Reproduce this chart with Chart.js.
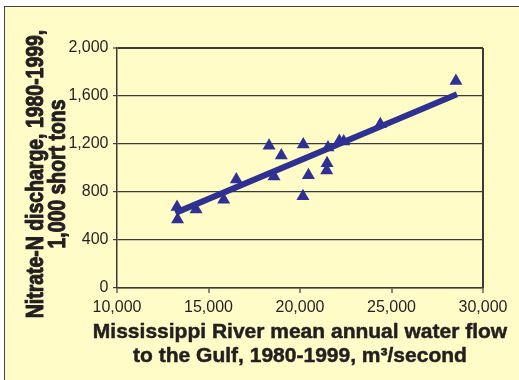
<!DOCTYPE html>
<html>
<head>
<meta charset="utf-8">
<script src="https://cdn.jsdelivr.net/npm/chart.js@4/dist/chart.umd.min.js"></script>
<style>
  html, body { margin: 0; padding: 0; background: #ffffff; width: 519px; height: 380px; overflow: hidden; }
  #frame { position: absolute; left: 4px; top: 6px; width: 530px; height: 390px; background: #FFFCC8;
           border-left: 1.5px solid #444; border-top: 1.5px solid #444; }
  #wrap { position: absolute; left: 0; top: 0; width: 519px; height: 380px; }
</style>
</head>
<body>
<div id="frame"></div>
<div id="wrap"><canvas id="c" width="519" height="380"></canvas></div>
<script>
// Mississippi River mean annual water flow (m3/s)
const flow = [13280, 13310, 14320, 15830, 16520, 18310, 18980, 18580, 20180, 20160,
              20460, 21480, 21460, 21530, 22150, 22390, 24390, 28520];
// Nitrate-N discharge (1,000 short tons)
const nitrate = [675, 570, 655, 735, 905, 1185, 1105, 930, 1195, 765,
                 940, 1040, 980, 1170, 1225, 1220, 1365, 1725];
// Fitted trend line end points
const trendX = [13190, 28580];
const trendY = [626, 1614];

const xTitle = ['Mississippi River mean annual water flow', 'to the Gulf, 1980-1999, m\u00B3/second'];
const yTitle = ['Nitrate-N discharge, 1980-1999,', '1,000 short tons'];

const navy = '#2E3192';
const ink = '#231F20';
const gridInk = '#3a3a3a';
const sans = "'Liberation Sans', Arial, sans-serif";

const points = flow.map((x, i) => ({ x: x, y: nitrate[i] }));
const trend = trendX.map((x, i) => ({ x: x, y: trendY[i] }));

// Axis titles: heavy bold face, the y title squeezed along its run to look condensed
const axisTitles = {
  id: 'axisTitles',
  afterDraw(chart) {
    const { ctx, chartArea, scales } = chart;
    ctx.save();
    ctx.fillStyle = ink;
    ctx.strokeStyle = ink;
    ctx.lineJoin = 'round';
    ctx.textAlign = 'center';
    ctx.textBaseline = 'alphabetic';
    ctx.font = 'bold 21px ' + sans;
    ctx.lineWidth = 0.5;
    const cx = (chartArea.left + chartArea.right) / 2;
    xTitle.forEach((t, i) => {
      const y = scales.x.bottom - 42 + i * 24;
      ctx.fillText(t, cx, y);
      ctx.strokeText(t, cx, y);
    });
    const cy = (chartArea.top + chartArea.bottom) / 2 + 6;
    yTitle.forEach((t, i) => {
      ctx.save();
      ctx.translate(scales.y.left + 43 + i * 22, cy);
      ctx.rotate(-Math.PI / 2);
      ctx.scale(0.81, 1);
      ctx.font = 'bold 24px ' + sans;
      ctx.lineWidth = 1.0;
      ctx.fillText(t, 0, 0);
      ctx.strokeText(t, 0, 0);
      ctx.restore();
    });
    ctx.restore();
  }
};

new Chart(document.getElementById('c'), {
  type: 'scatter',
  data: {
    datasets: [
      {
        label: 'Years',
        data: points,
        pointStyle: 'triangle',
        pointRadius: 7.5,
        pointBackgroundColor: navy,
        pointBorderColor: navy,
        pointBorderWidth: 0,
        order: 2
      },
      {
        label: 'Trend',
        data: trend,
        showLine: true,
        borderColor: navy,
        borderWidth: 6,
        pointRadius: 0,
        borderCapStyle: 'butt',
        order: 1
      }
    ]
  },
  plugins: [axisTitles],
  options: {
    responsive: false,
    animation: false,
    devicePixelRatio: 1,
    layout: { padding: { left: 0, top: 48, right: 36, bottom: 0 } },
    plugins: { legend: { display: false }, tooltip: { enabled: false } },
    scales: {
      x: {
        type: 'linear',
        min: 10000, max: 30000,
        afterFit: (s) => { s.height = 92; },
        ticks: {
          stepSize: 5000,
          color: ink,
          padding: 5,
          font: { family: sans, size: 16, lineHeight: 1.2 }
        },
        grid: {
          drawOnChartArea: true,
          color: (ctx) => (ctx.tick && ctx.tick.value === 30000) ? gridInk : 'rgba(0,0,0,0)',
          lineWidth: 2,
          tickColor: gridInk,
          tickLength: 5,
          tickWidth: 1.2
        },
        border: { display: true, color: gridInk, width: 1.5 },
        title: { display: false }
      },
      y: {
        type: 'linear',
        min: 0, max: 2000,
        afterFit: (s) => { s.width = 117; },
        ticks: {
          stepSize: 400,
          color: ink,
          padding: 4.5,
          font: { family: sans, size: 16, lineHeight: 1.2 }
        },
        grid: {
          color: gridInk,
          lineWidth: (ctx) => (ctx.tick && ctx.tick.value === 2000) ? 2 : 1.2,
          tickColor: gridInk,
          tickLength: 4,
          tickWidth: 1.2
        },
        border: { display: true, color: gridInk, width: 1.5 },
        title: { display: false }
      }
    }
  }
});
</script>
</body>
</html>
